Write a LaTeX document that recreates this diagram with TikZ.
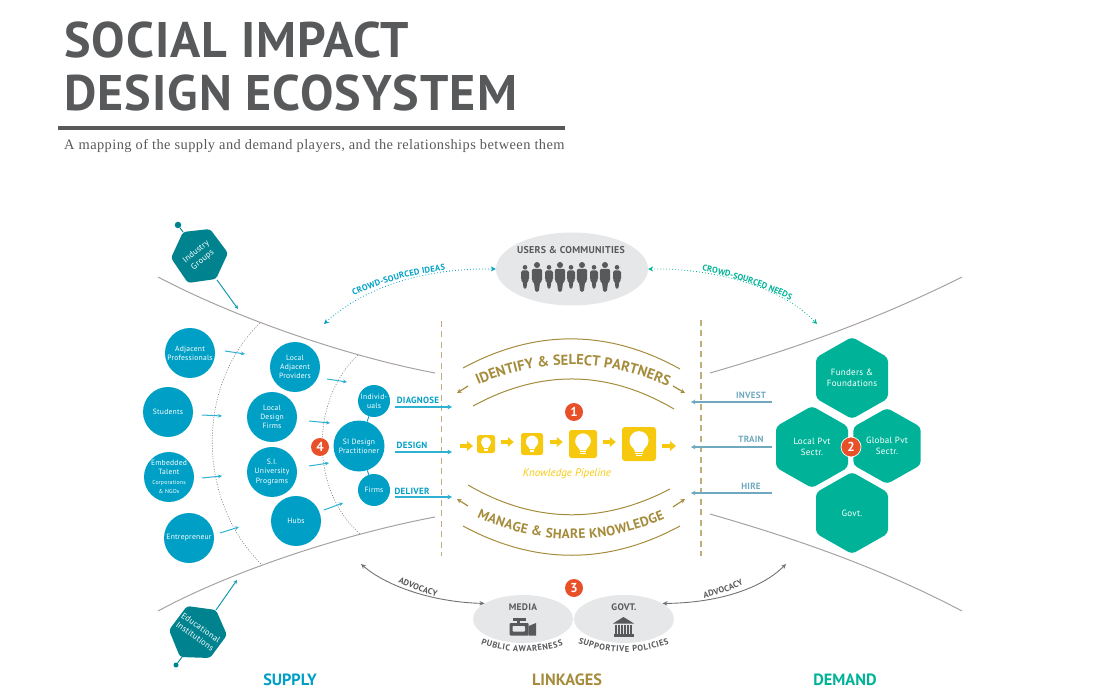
\documentclass[tikz,border=0pt]{standalone}
\usepackage{fontspec}
\usetikzlibrary{arrows.meta,shapes.geometric,decorations.text,calc}
\setmainfont{PT Sans}
\newfontfamily\din{PT Sans}
\newfontfamily\dins[LetterSpace=3]{PT Sans}
\newfontfamily\ttl[LetterSpace=2.1]{PT Sans}
\newfontfamily\subt[LetterSpace=3]{Liberation Serif}
\newcommand\fs[1]{\fontsize{#1}{\the\dimexpr #1pt*122/100\relax}\selectfont}
\definecolor{cyanc}{HTML}{00A0C6}
\definecolor{arrowc}{HTML}{2FB2D2}
\definecolor{tealc}{HTML}{00838F}
\definecolor{greenc}{HTML}{00B398}
\definecolor{redc}{HTML}{E8502A}
\definecolor{yellowc}{HTML}{F6C90E}
\definecolor{goldc}{HTML}{A58C3C}
\definecolor{dashc}{HTML}{BFAE7C}
\definecolor{greyc}{HTML}{E6E7E8}
\definecolor{darkc}{HTML}{58595B}
\definecolor{linec}{HTML}{A7A2A0}
\definecolor{bluegc}{HTML}{6FA8BF}
\tikzset{
  circ/.style={circle,fill=cyanc,text=white,inner sep=0pt,align=center,font=\dins\fs{7.6}},
  badge/.style={circle,fill=redc,text=white,inner sep=0pt,minimum size=#1,font=\din\bfseries\fs{13}},
  smallarrow/.style={arrowc,line width=1pt,-{Stealth[length=4pt,width=3.8pt]}},
  actlabel/.style={inner sep=0pt,text=cyanc,font=\dins\bfseries\fs{9}},
  actarrow/.style={arrowc,line width=1.1pt,-{Stealth[length=4.5pt,width=4.8pt]}},
  demlabel/.style={inner sep=0pt,text=bluegc,font=\dins\bfseries\fs{9}},
  demarrow/.style={bluegc,line width=1.1pt,-{Stealth[length=4.5pt,width=4.8pt]}},
  funnel/.style={linec,line width=1pt},
  vdash/.style={dashc,line width=1.1pt,dash pattern=on 6pt off 4.5pt},
  ring/.style={darkc!80,line width=.6pt,dash pattern=on 1pt off 1.6pt},
  goldarc/.style={goldc,line width=1pt},
  goldarrow/.style={goldc,line width=1.2pt,-{Stealth[length=4.5pt,width=4.5pt]}},
  hextext/.style={text=white,inner sep=0pt,align=center,font=\dins\fs{9}},
  bulbbox/.style={fill=yellowc,rounded corners=2.5pt,inner sep=0pt,minimum size=#1},
  yarrow/.style={yellowc,line width=3.2pt,-{Triangle[length=6pt,width=9.5pt]}},
  greyell/.style={ellipse,fill=greyc,inner sep=0pt},
  greytext/.style={inner sep=0pt,text=darkc,font=\dins\bfseries\fs{9.5}},
  head/.style={inner sep=0pt,font=\din\bfseries\fs{16.3}},
  advarrow/.style={darkc!85,line width=.9pt,{Stealth[length=5pt,width=4.5pt]}-{Stealth[length=5pt,width=4.5pt]}},
  pinstyle/.style={circle,fill=tealc,inner sep=0pt,minimum size=6.5pt},
}
\newcommand\hexv[6]{%
  \fill[greenc,rounded corners=4pt] ({#2+#4},#3) -- ({#2+#4},{#3-#5/2}) -- (#2,{#3-#5}) -- ({#2-#4},{#3-#5/2}) -- ({#2-#4},{#3+#5/2}) -- (#2,{#3+#5}) -- ({#2+#4},{#3+#5/2}) -- cycle;
  \node[hextext] (#1) at (#2,#3) {#6};}
\newcommand\person[4]{% x, top, height, halfwidth
  \fill[darkc] (#1,{#2+#4*.58}) circle ({#4*.58});
  \fill[darkc,rounded corners=1.6pt] ({#1-#4},{#2+#3*.64}) -- ({#1-#4},{#2+#4*1.16+.8}) -- ({#1+#4},{#2+#4*1.16+.8}) -- ({#1+#4},{#2+#3*.64}) -- ({#1+#4*.6},{#2+#3*.66}) -- ({#1+#4*.34},{#2+#3}) -- ({#1-#4*.34},{#2+#3}) -- ({#1-#4*.6},{#2+#3*.66}) -- cycle;}
\newcommand\bulb[3]{% x, y, half size
  \begin{scope}[shift={(#1,#2)},x=#3pt,y=-#3pt]
    \fill[white] (0,-.2) circle (.56);
    \fill[white] (-.4,.1) -- (.4,.1) -- (.22,.46) -- (-.22,.46) -- cycle;
    \fill[white] (-.22,.5) rectangle (.22,.59);
    \fill[white] (-.18,.64) rectangle (.18,.73);
  \end{scope}}
\newcommand\ctext[4]{% colour,size,text,path
  \path[decorate,decoration={text along path,text align=fit to path,text={|\din\bfseries\fs{#2}\color{#1}|#3{\,}}}] #4;}
\begin{document}
\begin{tikzpicture}[x=1pt,y=-1pt]
\useasboundingbox (0,0) rectangle (1100,700);
% title
\node[anchor=base west,inner sep=0pt,text=darkc,font=\ttl\bfseries\fs{50}] (t1) at (64,58) {SOCIAL IMPACT};
\node[anchor=base west,inner sep=0pt,text=darkc,font=\ttl\bfseries\fs{50}] (t2) at (64,111) {DESIGN ECOSYSTEM};
\coordinate (ruleA) at (58,128); \coordinate (ruleB) at (565,128);
\draw[darkc,line width=4pt] (ruleA) -- (ruleB);
\node[anchor=base west,inner sep=0pt,text=darkc,font=\subt\fs{14.4}] (sub) at (64,150) {A mapping of the supply and demand players, and the relationships between them};
% funnel
\coordinate (fa1) at (158,277); \coordinate (fa2) at (435,373);
\coordinate (fb1) at (158,611); \coordinate (fb2) at (435,517);
\coordinate (fc1) at (710,373); \coordinate (fc2) at (962,277);
\coordinate (fd1) at (710,514); \coordinate (fd2) at (962,611);
\draw[funnel] (fa1) .. controls (230,315) and (340,355) .. (fa2);
\draw[funnel] (fb1) .. controls (230,572) and (340,535) .. (fb2);
\draw[funnel] (fc1) .. controls (800,347) and (880,318) .. (fc2);
\draw[funnel] (fd1) .. controls (800,540) and (880,568) .. (fd2);
% rings
\coordinate (r1a) at (260,323); \coordinate (r1b) at (262,565);
\coordinate (r2a) at (358,355); \coordinate (r2b) at (360,534);
\draw[ring] (r1a) .. controls (196,385) and (196,500) .. (r1b);
\draw[ring] (r2a) .. controls (310,400) and (310,490) .. (r2b);
% dashed
\coordinate (da1) at (441.5,321); \coordinate (da2) at (441.5,556);
\coordinate (db1) at (701,320); \coordinate (db2) at (701,556);
\draw[vdash] (da1) -- (da2);
\draw[vdash] (db1) -- (db2);
% circles
\node[circ,minimum size=50pt] (c1) at (190,353) {Adjacent\\Professionals};
\node[circ,minimum size=50pt] (c2) at (168,412) {Students};
\node[circ,minimum size=50pt] (c3) at (169,477) {Embedded\\Talent\\{\fs{5.8}Corporations}\\{\fs{5.8}\& NGOs}};
\node[circ,minimum size=50pt] (c4) at (189,538) {Entrepreneur};
\node[circ,minimum size=50pt] (c5) at (295,367) {Local\\Adjacent\\Providers};
\node[circ,minimum size=50pt] (c6) at (272,417) {Local\\Design\\Firms};
\node[circ,minimum size=50pt] (c7) at (272,472) {S.I.\\University\\Programs};
\node[circ,minimum size=50pt] (c8) at (296,521) {Hubs};
\node[circ,minimum size=51pt] (si) at (359,446) {SI Design\\Practitioner};
\node[circ,minimum size=32pt] (ind) at (374,401) {Individ-\\uals};
\node[circ,minimum size=32pt] (firms) at (374,490) {Firms};
\draw[cyanc,line width=.9pt] (ind) -- (si);
\draw[cyanc,line width=.9pt] (firms) -- (si);
\node[badge=18pt] (b4) at (320,447) {4};
% small arrows
\coordinate (s1a) at (225,351); \coordinate (s1b) at (245,354);
\coordinate (s2a) at (202,415); \coordinate (s2b) at (222,416);
\coordinate (s3a) at (202,478); \coordinate (s3b) at (222,476);
\coordinate (s4a) at (220,533); \coordinate (s4b) at (239,527);
\coordinate (s5a) at (327,379); \coordinate (s5b) at (347,382);
\coordinate (s6a) at (309,421); \coordinate (s6b) at (330,423);
\coordinate (s7a) at (309,466); \coordinate (s7b) at (329,463);
\coordinate (s8a) at (324,510); \coordinate (s8b) at (343,503);
\foreach \k in {1,...,8} \draw[smallarrow] (s\k a) -- (s\k b);
% actions
\node[actlabel] (l1) at (418,400) {DIAGNOSE};
\node[actlabel] (l2) at (412,445) {DESIGN};
\node[actlabel] (l3) at (412,491) {DELIVER};
\coordinate (a1a) at (395,407); \coordinate (a1b) at (452,407);
\coordinate (a2a) at (395,452); \coordinate (a2b) at (452,452);
\coordinate (a3a) at (395,497); \coordinate (a3b) at (452,497);
\foreach \k in {1,2,3} \draw[actarrow] (a\k a) -- (a\k b);
\node[demlabel] (l4) at (751,395) {INVEST};
\node[demlabel] (l5) at (751,439) {TRAIN};
\node[demlabel] (l6) at (751,486) {HIRE};
\coordinate (d1a) at (772,402); \coordinate (d1b) at (691,402);
\coordinate (d2a) at (772,447); \coordinate (d2b) at (691,447);
\coordinate (d3a) at (772,493); \coordinate (d3b) at (691,493);
\foreach \k in {1,2,3} \draw[demarrow] (d\k a) -- (d\k b);
% demand hexes
\hexv{h1}{852}{378}{36}{41}{Funders \&\\Foundations}
\hexv{h2}{812}{447}{36}{41}{Local Pvt\\Sectr.}
\hexv{h3}{887}{446}{33.7}{38}{Global Pvt\\Sectr.}
\hexv{h4}{852}{513}{36}{41}{Govt.}
\node[badge=20pt,draw=white,line width=.7pt] (b2) at (851,447) {2};
% industry hex
\fill[tealc,rounded corners=3pt] (171,258) -- (183,232) -- (210,229) -- (228,253) -- (216,279) -- (188,283) -- cycle;
\node[hextext,rotate=40,font=\dins\fs{8.5}] (ig) at (199.5,256) {Industry\\Groups};
\node[pinstyle] (pin1) at (178,225) {};
\coordinate (pin1e) at (183,232);
\draw[tealc,line width=.9pt] (pin1) -- (pin1e);
\coordinate (ig1) at (217,280); \coordinate (ig2) at (238,309);
\draw[smallarrow,color=tealc!50!arrowc] (ig1) -- (ig2);
% educational hex
\fill[tealc,rounded corners=3pt] (169,630) -- (187,606) -- (216,610) -- (227,635) -- (210,658) -- (180,657) -- cycle;
\node[hextext,rotate=-35,font=\dins\fs{8.5}] (ei) at (198,632) {Educational\\Institutions};
\node[pinstyle,minimum size=5pt] (pin2) at (176,665) {};
\coordinate (pin2e) at (182,657);
\draw[tealc,line width=.9pt] (pin2) -- (pin2e);
\coordinate (ei1) at (216,610); \coordinate (ei2) at (237,580);
\draw[smallarrow,color=tealc!50!arrowc] (ei1) -- (ei2);
% users
\node[greyell,minimum width=152pt,minimum height=73pt] (users) at (572,269) {};
\node[greytext,font=\dins\bfseries\fs{9.9}] (ut) at (571,250) {USERS \& COMMUNITIES};
\person{525}{265}{24}{4}
\person{537}{262}{30}{5.2}
\person{549}{265}{24}{4}
\person{560}{262}{30}{5.2}
\person{571}{265}{24}{4}
\person{582}{262}{30}{5.2}
\person{594}{265}{24}{4}
\person{605}{262}{30}{5.2}
\person{617}{265}{24}{4}
% crowd sourced
\coordinate (cl) at (324,324); \coordinate (cr) at (817,324);
\draw[cyanc,line width=.8pt,dash pattern=on .8pt off 2.2pt,{Stealth[length=5pt,width=5pt]}-{Stealth[length=5pt,width=5pt]}] (cl) .. controls (370,282) and (435,268) .. (users.west);
\draw[greenc,line width=.8pt,dash pattern=on .8pt off 2.2pt,{Stealth[length=5pt,width=5pt]}-{Stealth[length=5pt,width=5pt]}] (users.east) .. controls (710,268) and (780,285) .. (cr);
\ctext{cyanc}{8.5}{CROWD-SOURCED IDEAS}{(354,296) .. controls (380,283) and (415,273) .. (447,270)}
\ctext{greenc}{8.5}{CROWD-SOURCED NEEDS}{(702,271) .. controls (730,276) and (765,287) .. (790,300)}
% identify arcs
\coordinate (ua1) at (463,368); \coordinate (ua2) at (680,369);
\coordinate (ub1) at (473,406); \coordinate (ub2) at (674,409);
\draw[goldarc] (ua1) .. controls (535,329) and (608,329) .. (ua2);
\draw[goldarc] (ub1) .. controls (540,369.5) and (607,369.5) .. (ub2);
\ctext{goldc}{14.5}{IDENTIFY {\&} SELECT PARTNERS}{(478,385) .. controls (541,358) and (603,358) .. (667,386)}
\coordinate (ga1) at (468,386); \coordinate (ga2) at (457,393);
\coordinate (ga3) at (673,386); \coordinate (ga4) at (685,393);
\draw[goldarrow] (ga1) -- (ga2);
\draw[goldarrow] (ga3) -- (ga4);
% manage arcs
\coordinate (ma1) at (468,485); \coordinate (ma2) at (670,489);
\coordinate (mb1) at (463,526); \coordinate (mb2) at (680,526);
\draw[goldarc] (ma1) .. controls (535,524) and (603,524) .. (ma2);
\draw[goldarc] (mb1) .. controls (535,565) and (608,565) .. (mb2);
\ctext{goldc}{13.5}{MANAGE {\&} SHARE KNOWLEDGE}{(477,517) .. controls (539,546) and (604,546) .. (667,518)}
\coordinate (gb1) at (468,506); \coordinate (gb2) at (457,499);
\coordinate (gb3) at (673,507); \coordinate (gb4) at (685,499);
\draw[goldarrow] (gb1) -- (gb2);
\draw[goldarrow] (gb3) -- (gb4);
% pipeline
\node[badge=18pt] (b1) at (574,412) {1};
\node[bulbbox=18pt] (p1) at (486,444) {};
\node[bulbbox=22pt] (p2) at (532,444) {};
\node[bulbbox=28pt] (p3) at (583,444) {};
\node[bulbbox=34pt,rounded corners=3pt] (p4) at (639,444) {};
\bulb{486}{444}{9}
\bulb{532}{444}{11}
\bulb{583}{444}{14}
\bulb{639}{444}{17}
\coordinate (y0) at (460,446); \coordinate (y1) at (473,446);
\coordinate (y5a) at (662,446); \coordinate (y5b) at (676,446);
\draw[yarrow] (y0) -- (y1);
\draw[yarrow] ([xshift=6pt,yshift=2pt]p1.east) -- ([xshift=-7pt,yshift=2pt]p2.west);
\draw[yarrow] ([xshift=7pt,yshift=2pt]p2.east) -- ([xshift=-6pt,yshift=2pt]p3.west);
\draw[yarrow] ([xshift=6pt,yshift=2pt]p3.east) -- ([xshift=-6pt,yshift=2pt]p4.west);
\draw[yarrow] (y5a) -- (y5b);
\node[inner sep=0pt,text=yellowc,font=\din\itshape\fs{11}] (kp) at (567,474) {Knowledge Pipeline};
% linkages
\node[badge=18pt] (b3) at (574,588) {3};
\node[greyell,minimum width=100pt,minimum height=48pt] (media) at (523,619) {};
\node[greyell,minimum width=100pt,minimum height=48pt] (govt) at (624,619) {};
\node[greytext] (mt) at (523,607) {MEDIA};
\node[greytext] (gt) at (624,607) {GOVT.};
% camera
\fill[darkc,rounded corners=1pt] (509.5,623) rectangle (528.7,635.5);
\fill[darkc] (513,618) rectangle (526,621); \fill[darkc] (517,620) rectangle (520,624);
\fill[darkc] (528.7,626) -- (536,623) -- (536,635.5) -- (528.7,635.5) -- cycle;
\fill[greyc,rounded corners=.8pt] (512.5,626) rectangle (525,631.5);
% pillars
\fill[darkc] (623.5,617) -- (634,623.5) -- (613,623.5) -- cycle;
\foreach \q in {615,618,621,624,627,630} \fill[darkc] (\q,624.5) rectangle (\q+1.9,633.5);
\fill[darkc] (613.5,634.3) rectangle (633.5,637);
\ctext{darkc}{8.5}{PUBLIC AWARENESS}{(481,644) .. controls (509,654) and (537,654) .. (565,645)}
\ctext{darkc}{8.5}{SUPPORTIVE POLICIES}{(578,643) .. controls (609,655) and (640,655) .. (671,643)}
% advocacy
\coordinate (advl) at (361,564); \coordinate (advr) at (786,564);
\draw[advarrow] (advl) .. controls (385,585) and (430,602) .. (media.158);
\draw[advarrow] (govt.22) .. controls (715,603) and (760,590) .. (advr);
\ctext{darkc}{8.5}{ADVOCACY}{(398,582) .. controls (411,588) and (425,594) .. (438,597)}
\ctext{darkc}{8.5}{ADVOCACY}{(704,598) .. controls (718,595) and (733,590) .. (745,583)}
% headers
\node[head,text=cyanc] (hs) at (290,680) {SUPPLY};
\node[head,text=goldc] (hl) at (567,680) {LINKAGES};
\node[head,text=greenc] (hd) at (845,680) {DEMAND};
\end{tikzpicture}
\end{document}
